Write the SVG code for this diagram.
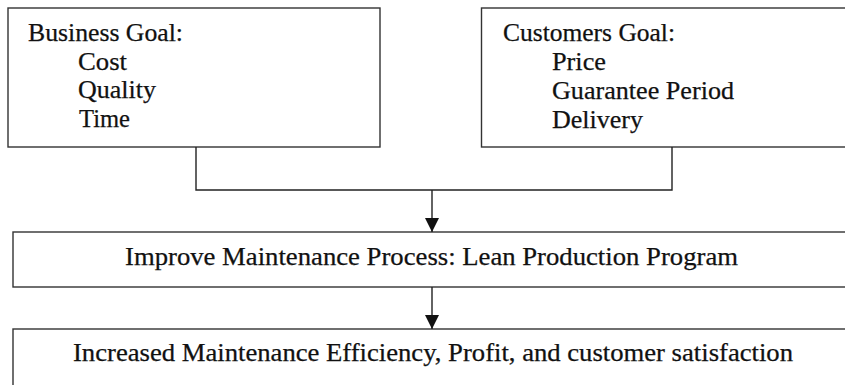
<svg xmlns="http://www.w3.org/2000/svg" width="845" height="385" viewBox="0 0 845 385">
<defs>
<style>
.box{fill:#fff;stroke:#333;stroke-width:1.4}
.con{fill:none;stroke:#222;stroke-width:1.4}
text{font-family:"Liberation Serif","Times New Roman",serif;font-size:25px;fill:#111;stroke:#111;stroke-width:0.25}
</style>
<marker id="ah" viewBox="0 0 14 14" refX="14" refY="7" markerWidth="14" markerHeight="14" markerUnits="userSpaceOnUse" orient="auto">
<path d="M0,0 L14,7 L0,14 Z" fill="#111"/>
</marker>
</defs>
<rect width="845" height="385" fill="#fff"/>
<g id="business">
<rect class="box" x="8" y="8" width="372" height="139"/>
<text x="28" y="41" textLength="155" lengthAdjust="spacingAndGlyphs">Business Goal:</text>
<text x="78" y="70" textLength="49" lengthAdjust="spacingAndGlyphs">Cost</text>
<text x="78" y="98" textLength="78" lengthAdjust="spacingAndGlyphs">Quality</text>
<text x="79" y="127" textLength="51" lengthAdjust="spacingAndGlyphs">Time</text>
</g>
<g id="customers">
<rect class="box" x="481.5" y="8" width="400" height="139"/>
<text x="503" y="40.5" textLength="172" lengthAdjust="spacingAndGlyphs">Customers Goal:</text>
<text x="552" y="70" textLength="54" lengthAdjust="spacingAndGlyphs">Price</text>
<text x="552" y="99" textLength="182" lengthAdjust="spacingAndGlyphs">Guarantee Period</text>
<text x="552" y="127.5" textLength="91" lengthAdjust="spacingAndGlyphs">Delivery</text>
</g>
<g id="improve">
<rect class="box" x="13" y="232" width="838" height="55"/>
<text x="125" y="264.5" textLength="613" lengthAdjust="spacingAndGlyphs">Improve Maintenance Process: Lean Production Program</text>
</g>
<g id="result">
<rect class="box" x="13" y="329" width="838" height="80"/>
<text x="73" y="361" textLength="720" lengthAdjust="spacingAndGlyphs">Increased Maintenance Efficiency, Profit, and customer satisfaction</text>
</g>
<g id="connectors">
<path class="con" d="M196,147 V190 H672 V147"/>
<path class="con" d="M432,190 V232" marker-end="url(#ah)"/>
<path class="con" d="M432,287 V329" marker-end="url(#ah)"/>
</g>
</svg>
